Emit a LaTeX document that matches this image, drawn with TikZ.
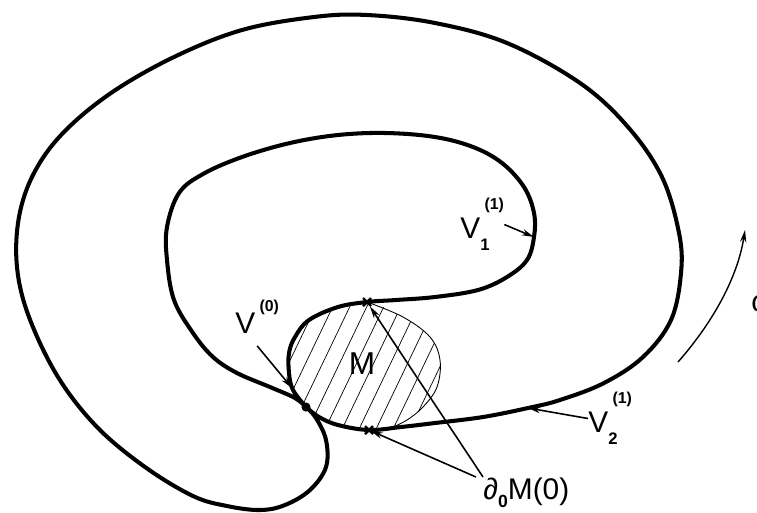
\documentclass[tikz,border=0pt]{standalone}
\usepackage{fontspec}
\setmainfont{Liberation Sans}
\usetikzlibrary{arrows.meta,calc}
\newcommand{\Vlab}[3][0.94em]{V\rlap{\raisebox{-0.42em}{\fontsize{9.5}{9.5}\selectfont\bfseries #2}}\kern2.5pt\raisebox{#1}{\fontsize{9}{9}\selectfont\bfseries(#3)}}

\begin{document}
\begin{tikzpicture}[x=0.02cm,y=-0.02cm,
  curve/.style={line width=2.3pt,line join=round,line cap=round},
  arr/.style={line width=0.9pt,-{Stealth[length=7pt,width=3.6pt]}},
  hatch/.style={line width=0.4pt},
  xmark/.style={line width=1.4pt},
  lab/.style={font=\fontsize{17}{17}\selectfont,inner sep=0pt}]
\useasboundingbox (0,0) rectangle (757,512);
\coordinate (p0) at (306,407);
\coordinate (cu) at (367,302);
\coordinate (cl) at (369,430);
\coordinate (v0) at (292,388);
\coordinate (v1) at (534,237);
\coordinate (v2) at (528,408);
\coordinate (rA) at (678,362);
\coordinate (rB) at (745,230);
% hatched piece M
\begin{scope}
\clip plot[smooth cycle,tension=0.6] coordinates {(cu) (338,307) (309,320) (295,337)
  (289,353) (289,373) (293,390) (p0) (319,417) (338,425) (cl) (393,427) (407,420)
  (423,407) (437,387) (440,360) (430,337) (403,317)};
\foreach \k in {-4,...,10} \draw[hatch] ({298+17*\k},450) -- ++(72,-150);
\end{scope}
\draw[line width=0.5pt] plot[smooth,tension=0.6] coordinates {(cu) (403,317) (430,337)
  (440,360) (437,387) (423,407) (407,420) (393,427)};
% outer curve
\draw[curve] plot[smooth,tension=0.6] coordinates {(p0) (316,418) (326,440) (326,467)
  (310,490) (285,505) (260,510) (227,506) (193,496) (145,467) (97,427) (58,377)
  (29,317) (17,267) (19,217) (34,173) (63,133) (111,93) (174,57) (242,30) (314,17)
  (367,15) (435,23) (507,43) (580,83) (628,127) (662,177) (679,233) (681,273)
  (671,320) (643,357) (604,383) (560,400) (v2) (483,417) (435,423) (401,427) (cl)
  (338,425) (319,417) (p0)};
% inner curve
\draw[curve] plot[smooth,tension=0.6] coordinates {(p0) (295,398) (270,387) (237,373)
  (213,357) (193,333) (174,300) (167,260) (167,227) (179,193) (203,174) (242,157)
  (290,143) (338,135) (386,133) (435,137) (473,147) (502,163) (524,187) (534,213)
  (v1) (527,260) (507,277) (478,290) (435,297) (396,300) (cu) (338,307) (309,320)
  (295,337) (289,353) (289,373) (293,390) (p0)};
\fill (p0) circle (2.6pt);
\draw[xmark] (cu) +(-4,-4) -- +(4,4) +(-4,4) -- +(4,-4);
\draw[xmark] (cl) +(-4,-4) -- +(4,4) +(-4,4) -- +(4,-4);
% labels
\node[lab,anchor=base west] (lV0) at (235,333) {\Vlab[0.72em]{}{0}};
\node[lab,anchor=base west] (lV1) at (460,238) {\Vlab{1}{1}};
\node[lab,anchor=base west] (lV2) at (588,432) {\Vlab{2}{1}};
\node[font=\fontsize{18}{18}\selectfont] (lM) at (362,364) {M};
\node[lab,anchor=base west] (lD) at (483,499)
  {∂\raisebox{-0.3em}{\fontsize{10}{10}\selectfont\bfseries 0}M(0)};
\node[lab,anchor=west] (lW) at (751,304) {ω};
\draw[arr] (lV0.south) -- (v0);
\draw[arr] (lV1.east) -- (v1);
\draw[arr] (lV2.west) -- (v2);
\draw[arr,shorten >=3pt] (lD.north west) -- (cu);
\draw[arr,shorten >=1pt] ([xshift=-4pt]lD.north west) -- (cl);
\draw[arr,line width=0.8pt] (rA) .. controls (715,320) and (738,275) .. (rB);
\end{tikzpicture}
\end{document}
